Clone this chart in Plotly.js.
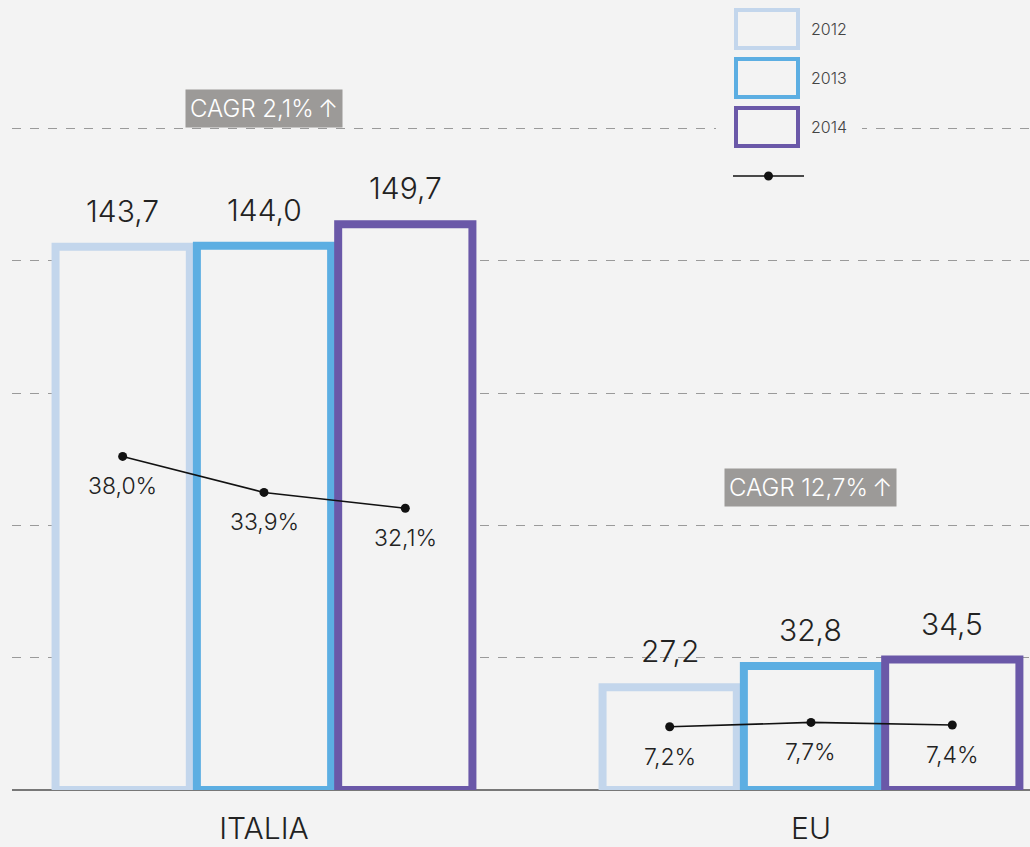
<!DOCTYPE html>
<html>
<head>
<meta charset="utf-8">
<script src="https://cdn.plot.ly/plotly-3.0.1.min.js"></script>
<style>
html,body{margin:0;padding:0;background:#f3f3f3;}
#chart{width:1030px;height:847px;}
</style>
</head>
<body>
<div id="chart"></div>
<script>
// ---- data ----
const categories = ['ITALIA', 'EU'];
const years = ['2012', '2013', '2014'];
const values2012 = [143.7, 27.2];
const values2013 = [144.0, 32.8];
const values2014 = [149.7, 34.5];
const shareItalia = [38.0, 33.9, 32.1];
const shareEU = [7.2, 7.7, 7.4];
const cagrLabels = ['CAGR 2,1%\u2009\u2191', 'CAGR 12,7%\u2009\u2191'];

// ---- style ----
const BG = '#f3f3f3';
const yearColors = ['#c3d6ec', '#5caee2', '#6a58a8'];
const FONT = 'Inter, Lato, "Open Sans", sans-serif';
const W = 300;
const BARGAP = 0.225;
const GROUPGAP = 0.05;

const fmt = (v, d) => v.toFixed(d).replace('.', ',');
const catIdx = categories.map((c, i) => i);
const seriesVals = [values2012, values2013, values2014];
const slot = (1 - BARGAP) / years.length;
const offs = (k) => (k - (years.length - 1) / 2) * slot;

const traces = [];
const annotations = [];
years.forEach((yr, k) => {
  traces.push({
    type: 'bar',
    name: yr,
    x: catIdx,
    y: seriesVals[k],
    marker: {color: BG, line: {color: yearColors[k], width: 8}},
    showlegend: false,
    hoverinfo: 'skip'
  });
  seriesVals[k].forEach((v, ci) => {
    annotations.push({x: ci + offs(k), y: v, xref: 'x', yref: 'y', text: fmt(v, 1),
      showarrow: false, yanchor: 'bottom', yshift: 16,
      font: {family: FONT, size: 30, color: '#222', weight: W}});
  });
});

const shares = [shareItalia, shareEU];
shares.forEach((s, ci) => {
  traces.push({
    type: 'scatter',
    mode: 'lines+markers',
    x: s.map((v, k) => ci + offs(k)),
    y: s,
    yaxis: 'y2',
    line: {color: '#111', width: 1.6},
    marker: {color: '#111', size: 9},
    cliponaxis: false,
    showlegend: false,
    hoverinfo: 'skip'
  });
  s.forEach((v, k) => {
    annotations.push({x: ci + offs(k), y: v, xref: 'x', yref: 'y2', text: fmt(v, 1) + '%',
      showarrow: false, yanchor: 'middle', yshift: -30,
      font: {family: FONT, size: 23, color: '#222', weight: W}});
  });
});

// ---- custom legend (paper coords) ----
const shapes = [];
const px = (p) => (p - 12) / 1018;      // horizontal pixel -> paper
const py = (p) => 1 - p / 790;           // vertical pixel -> paper
shapes.push({type: 'rect', xref: 'paper', yref: 'paper', x0: px(716), x1: px(862), y0: py(150), y1: py(4),
  fillcolor: BG, line: {width: 0}, layer: 'above'});
const legTops = [10, 59, 108];
years.forEach((yr, k) => {
  shapes.push({type: 'rect', xref: 'paper', yref: 'paper',
    x0: px(736), x1: px(798), y0: py(legTops[k] + 38), y1: py(legTops[k]),
    fillcolor: BG, line: {color: yearColors[k], width: 4}, layer: 'above'});
  annotations.push({xref: 'paper', yref: 'paper', x: px(809), y: py(legTops[k] + 19),
    xanchor: 'left', yanchor: 'middle', text: yr, showarrow: false,
    font: {family: FONT, size: 16, color: '#444', weight: W}});
});
shapes.push({type: 'line', xref: 'paper', yref: 'paper', x0: px(733), x1: px(804), y0: py(176), y1: py(176),
  line: {color: '#111', width: 1.6}, layer: 'above'});
shapes.push({type: 'circle', xref: 'paper', yref: 'paper', x0: px(764), x1: px(773), y0: py(180.5), y1: py(171.5),
  fillcolor: '#111', line: {width: 0}, layer: 'above'});

// CAGR boxes
const cagrY = [py(108), py(488)];
cagrLabels.forEach((t, ci) => {
  annotations.push({x: ci, xref: 'x', yref: 'paper', y: cagrY[ci], text: t, showarrow: false,
    xanchor: 'center', yanchor: 'middle', bgcolor: '#9c9a98', borderpad: 4,
    font: {family: FONT, size: 24, color: '#ffffff', weight: W}});
});

const layout = {
  width: 1030, height: 847,
  paper_bgcolor: BG, plot_bgcolor: BG,
  margin: {l: 12, r: 0, t: 0, b: 57},
  barmode: 'group', bargap: BARGAP, bargroupgap: GROUPGAP,
  xaxis: {range: [-0.4607, 1.4004], tickvals: catIdx, ticktext: categories,
    showgrid: false, zeroline: false, showline: false, ticks: '',
    tickfont: {family: FONT, size: 30, color: '#222', weight: W}, ticklabelstandoff: 18, fixedrange: true},
  yaxis: {range: [0, 209], tickvals: [35, 70, 105, 140, 175], showticklabels: false,
    showgrid: true, gridcolor: '#9a9a9a', griddash: 'dash', gridwidth: 1,
    zeroline: true, zerolinecolor: '#777', zerolinewidth: 1.2, ticks: ''},
  yaxis2: {range: [0, 90], overlaying: 'y', side: 'right', visible: false, showgrid: false, zeroline: false},
  shapes: shapes,
  annotations: annotations,
  showlegend: false,
  font: {family: FONT}
};

Plotly.newPlot('chart', traces, layout, {displayModeBar: false, staticPlot: true});
</script>
</body>
</html>
